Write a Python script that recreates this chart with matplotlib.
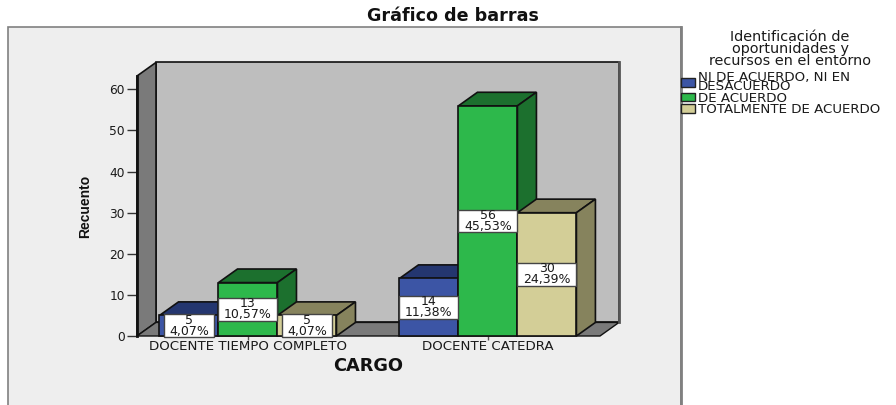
import matplotlib
matplotlib.use("Agg")
import matplotlib.pyplot as plt
from matplotlib.patches import Polygon, Rectangle, Patch

categories = ["DOCENTE TIEMPO COMPLETO", "DOCENTE CATEDRA"]
series_names = ["NI DE ACUERDO, NI EN\nDESACUERDO", "DE ACUERDO", "TOTALMENTE DE ACUERDO"]
neutral = [5, 14]
agree = [13, 56]
strongly = [5, 30]
neutral_pct = ["4,07%", "11,38%"]
agree_pct = ["10,57%", "45,53%"]
strongly_pct = ["4,07%", "24,39%"]
yticks = [0, 10, 20, 30, 40, 50, 60]
legend_title = "Identificación de\noportunidades y\nrecursos en el entorno"

W, H = 896, 405
FRONT = ["#3C55A5", "#2DB84B", "#D3CE97"]
DARK = ["#24366F", "#1C702E", "#86835D"]
INK = "#1a1a1a"
FONT = "DejaVu Sans"

fig = plt.figure(figsize=(W / 100, H / 100), dpi=100, facecolor="white")
fig.add_artist(Rectangle((8 / W, -0.05), 673 / W, 1.05 - 27 / H, transform=fig.transFigure,
                         facecolor="#EEEEEE", edgecolor="#808080", linewidth=1.2, zorder=-5))
fig.add_artist(plt.Line2D([681 / W, 681 / W], [0, 1 - 27 / H], color="#808080", linewidth=2, zorder=-4))

ax = fig.add_axes([137 / W, (H - 336) / H, (600 - 137) / W, (336 - 76) / H])
ax.patch.set_visible(False)
for s in ax.spines.values():
    s.set_visible(False)

XL, XR = -0.4625, 1.467
YT = 63.26
ax.set_xlim(XL, XR)
ax.set_ylim(0, YT)
DX, DY = 19 / 240, 3.3
WIDTH = 59 / 240
BOX_H = 5.5


def poly(pts, fc, ec="#111111", lw=1.2, z=2):
    ax.add_patch(Polygon(pts, closed=True, facecolor=fc, edgecolor=ec, linewidth=lw,
                         clip_on=False, zorder=z, joinstyle="miter"))


# walls
poly([(XL + DX, DY), (XR + DX, DY), (XR + DX, YT + DY), (XL + DX, YT + DY)], "#BEBEBE")
ax.plot([XR + DX, XR + DX], [DY, YT + DY], color="#555555", lw=2, clip_on=False, zorder=2.1)
poly([(XL, 0), (XL + DX, DY), (XL + DX, YT + DY), (XL, YT)], "#7A7A7A")
poly([(XL, 0), (XR, 0), (XR + DX, DY), (XL + DX, DY)], "#7A7A7A", lw=1)
ax.plot([XL, XL], [0, YT], color="#111111", lw=2, clip_on=False, zorder=2.2)

# bars, painted from left to right
z = 3
for c in range(len(categories)):
    for s, vals in enumerate([neutral, agree, strongly]):
        v = vals[c]
        x0 = c + (s - 1.5) * WIDTH
        x1 = x0 + WIDTH
        poly([(x0, v), (x1, v), (x1 + DX, v + DY), (x0 + DX, v + DY)], DARK[s], z=z)
        poly([(x1, 0), (x1 + DX, DY), (x1 + DX, v + DY), (x1, v)], DARK[s], z=z)
        ax.bar(x0, v, WIDTH, align="edge", color=FRONT[s], edgecolor="#111111", linewidth=1.2,
               zorder=z + 0.1, clip_on=False)
        z += 1

# value labels
for c in range(len(categories)):
    for s, (vals, pct) in enumerate([(neutral, neutral_pct), (agree, agree_pct), (strongly, strongly_pct)]):
        x = c + (s - 1) * WIDTH
        v = vals[c]
        bw = WIDTH * (0.85 if len(pct[c]) == 5 else 1.0)
        ax.add_patch(Rectangle((x - bw / 2, v / 2 - BOX_H / 2), bw, BOX_H, facecolor="white",
                               edgecolor="#444444", linewidth=1.0, zorder=29, clip_on=False))
        ax.text(x, v / 2, f"{v}\n{pct[c]}", ha="center", va="center", fontsize=9,
                linespacing=0.78, color=INK, family=FONT, zorder=30, clip_on=False)

ax.set_yticks(yticks)
ax.set_xticks(range(len(categories)))
ax.set_xticklabels(categories)
ax.tick_params(axis="y", length=7.2, width=1, color="#333333", pad=1.5, labelsize=8.8, labelcolor=INK)
ax.tick_params(axis="x", length=3, width=1, color="#555555", pad=0, labelsize=9.6, labelcolor=INK)
for t in ax.get_xticklabels() + ax.get_yticklabels():
    t.set_family(FONT)

fig.text(453 / W, 1 - 16 / H, "Gráfico de barras", ha="center", va="center", fontsize=12.6,
         fontweight="bold", family=FONT, color="#111111")
fig.text(368 / W, 1 - 366 / H, "CARGO", ha="center", va="center", fontsize=12.8,
         fontweight="bold", family=FONT, color="#111111")
fig.text(85 / W, 1 - 206 / H, "Recuento", rotation=90, ha="center", va="center", fontsize=10,
         fontweight="bold", family="Liberation Sans", color="#111111")
fig.text(790 / W, 1 - 49 / H, legend_title, ha="center", va="center", fontsize=10.4,
         linespacing=0.82, family=FONT, color=INK)

handles = [Patch(facecolor=FRONT[i], edgecolor="#222222", linewidth=1.0) for i in range(3)]
leg = fig.legend(handles, series_names, loc="upper left",
                 bbox_to_anchor=(681 / W, 1 - 71 / H), bbox_transform=fig.transFigure,
                 frameon=False, fontsize=9.6, handlelength=1.05, handleheight=0.6,
                 handletextpad=0.2, labelspacing=-0.12, borderpad=0, borderaxespad=0)
for t in leg.get_texts():
    t.set_linespacing(0.62)
    t.set_family(FONT)
    t.set_color(INK)

fig.savefig("out.png", dpi=100)
